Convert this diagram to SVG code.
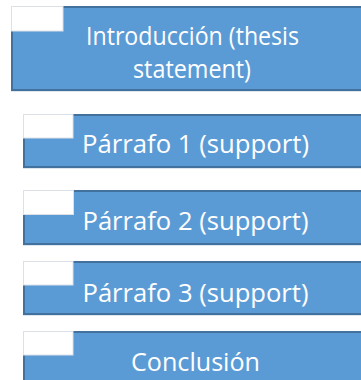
<svg xmlns="http://www.w3.org/2000/svg" width="361" height="380" viewBox="0 0 361 380">
  <style>
    .box { fill: #5B9BD5; stroke: #41719C; stroke-width: 2; }
    .tab { fill: #FFFFFF; stroke: #DCE1E8; stroke-width: 1; }
    .sheen { stroke: #DDE5EF; stroke-width: 1; }
    .label { fill: #FFFFFF; font-family: "Open Sans", "Noto Sans", sans-serif; font-size: 25.5px; text-anchor: middle; }
  </style>
  <rect width="361" height="380" fill="#FFFFFF"/>

  <g id="node-introduccion">
    <rect class="box" x="12" y="7" width="370" height="83"/>
    <line class="sheen" x1="11" y1="91.5" x2="361" y2="91.5"/>
    <rect class="tab" x="11.5" y="6.5" width="51.5" height="24.5"/>
    <text class="label" x="192.5" y="44.5" textLength="213" lengthAdjust="spacingAndGlyphs">Introducción (thesis</text>
    <text class="label" x="192" y="77.5" textLength="118" lengthAdjust="spacingAndGlyphs">statement)</text>
  </g>

  <g id="node-parrafo-1">
    <rect class="box" x="24" y="115" width="370" height="52"/>
    <line class="sheen" x1="23" y1="168.5" x2="361" y2="168.5"/>
    <rect class="tab" x="23.5" y="114.5" width="49.5" height="23.5"/>
    <text class="label" x="195.5" y="153" textLength="227" lengthAdjust="spacingAndGlyphs">Párrafo 1 (support)</text>
  </g>

  <g id="node-parrafo-2">
    <rect class="box" x="24" y="191" width="370" height="53"/>
    <line class="sheen" x1="23" y1="245.5" x2="361" y2="245.5"/>
    <rect class="tab" x="23.5" y="190.5" width="50" height="24"/>
    <text class="label" x="195.5" y="229.5" textLength="226" lengthAdjust="spacingAndGlyphs">Párrafo 2 (support)</text>
  </g>

  <g id="node-parrafo-3">
    <rect class="box" x="24" y="262" width="370" height="52"/>
    <line class="sheen" x1="23" y1="315.5" x2="361" y2="315.5"/>
    <rect class="tab" x="23.5" y="261.5" width="49.5" height="23.5"/>
    <text class="label" x="195.5" y="302" textLength="226" lengthAdjust="spacingAndGlyphs">Párrafo 3 (support)</text>
  </g>

  <g id="node-conclusion">
    <rect class="box" x="24" y="332" width="370" height="60"/>
    <rect class="tab" x="23.5" y="331.5" width="49.5" height="23.5"/>
    <text class="label" x="195.5" y="370.5" textLength="129" lengthAdjust="spacingAndGlyphs">Conclusión</text>
  </g>

  <g id="connectors"/>
</svg>
